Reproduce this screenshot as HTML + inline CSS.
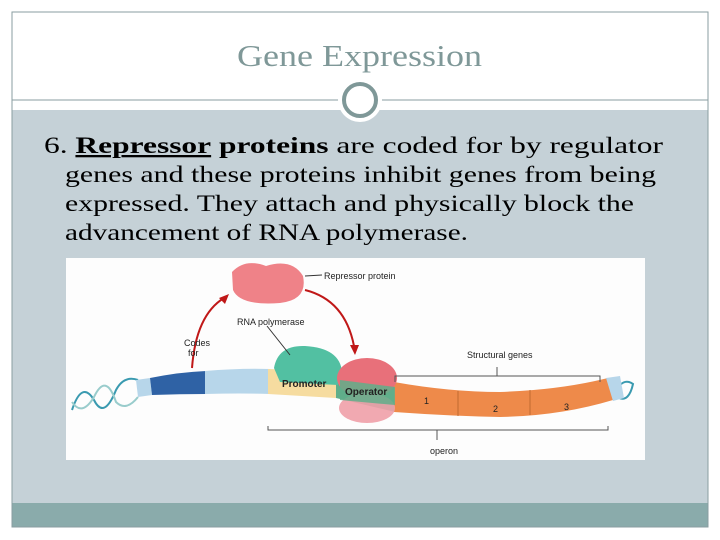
<!DOCTYPE html>
<html><head><style>
html,body{margin:0;padding:0;background:#fff;width:720px;height:540px;overflow:hidden}
</style></head><body>
<svg width="720" height="540" viewBox="0 0 720 540" xmlns="http://www.w3.org/2000/svg">
<rect x="0" y="0" width="720" height="540" fill="#fff"/>
<rect x="12" y="110" width="696" height="393" fill="#c5d1d7"/>
<rect x="12" y="503" width="696" height="24" fill="#8aabab"/>
<rect x="12" y="12" width="696" height="515" fill="none" stroke="#8a9ea0" stroke-width="1"/>
<line x1="12" y1="100" x2="708" y2="100" stroke="#8a9ea0" stroke-width="1"/>
<circle cx="360" cy="100" r="22" fill="#fff"/>
<circle cx="360" cy="100" r="16" fill="#fff" stroke="#7f9898" stroke-width="4"/>
<text x="237" y="66" textLength="245" lengthAdjust="spacingAndGlyphs" font-family="Liberation Serif, serif" font-size="31" fill="#7f9898">Gene Expression</text>
<g font-family="Liberation Serif, serif" font-size="23" fill="#000">
<text x="44" y="153" textLength="619" lengthAdjust="spacingAndGlyphs">6.  <tspan font-weight="bold" text-decoration="underline">Repressor</tspan> <tspan font-weight="bold">proteins</tspan> are coded for by regulator</text>
<text x="65" y="182" textLength="591" lengthAdjust="spacingAndGlyphs">genes and these proteins inhibit genes from being</text>
<text x="65" y="211" textLength="569" lengthAdjust="spacingAndGlyphs">expressed.  They attach and physically block the</text>
<text x="65" y="240" textLength="403" lengthAdjust="spacingAndGlyphs">advancement of RNA polymerase.</text>
</g>
<rect x="66" y="258" width="579" height="202" fill="#fdfdfd"/>
<path d="M72 410 q10 -30 22 -10 q10 20 22 -10 q8 -15 22 -10" fill="none" stroke="#3a9ab0" stroke-width="2"/>
<path d="M72 402 q10 15 22 -5 q12 -25 22 5 q10 10 22 -5" fill="none" stroke="#9cc" stroke-width="2"/>
<path d="M615 392 q8 -15 18 -8 q-4 18 -14 14" fill="none" stroke="#3a9ab0" stroke-width="2"/>
<path d="M136 380 L150 378 L152 395 L138 397 Z" fill="#b7d6ea"/>
<path d="M150 378 Q180 372 206 371 L206 394 Q180 394 152 395 Z" fill="#2f62a5"/>
<path d="M205 371 Q240 368 270 369 L270 394 Q240 393 205 394 Z" fill="#b7d6ea"/>
<path d="M268 369 L336 372 L336 398 L268 394 Z" fill="#f6dca0"/>
<path d="M336 372 L395 382 L395 412 L336 398 Z" fill="#5fae8a"/>
<path d="M394 382 Q450 392 500 392 Q560 390 608 378 L613 400 Q560 416 500 417 Q450 416 394 412 Z" fill="#ee8a4a"/>
<line x1="458" y1="391" x2="458" y2="416" stroke="#c06a30"/>
<line x1="530" y1="390" x2="530" y2="415" stroke="#c06a30"/>
<path d="M606 378 L620 376 L624 398 L613 401 Z" fill="#b7d6ea"/>
<path d="M274 368 Q278 345 305 346 Q340 348 342 372 L338 385 L280 382 Z" fill="#52c0a2"/>
<ellipse cx="367" cy="378" rx="30" ry="20" fill="#e8707a"/>
<ellipse cx="367" cy="408" rx="28" ry="15" fill="#f0a0a8" opacity="0.9"/>
<path d="M340 380 L395 387 L395 405 L340 400 Z" fill="#5fae8a" opacity="0.85"/>
<path d="M232 272 Q245 258 266 266 Q292 258 303 276 Q308 300 280 303 Q240 306 233 290 Z" fill="#ef8288"/>
<path d="M192 368 Q196 315 224 298" fill="none" stroke="#c01818" stroke-width="2"/>
<polygon points="229,294 219,298 225,304" fill="#c01818"/>
<path d="M305 290 Q345 300 354 346" fill="none" stroke="#c01818" stroke-width="2"/>
<polygon points="355,355 350,345 359,345" fill="#c01818"/>
<path d="M395 382 L395 376 L600 376 L600 382 M497 376 L497 367" fill="none" stroke="#555"/>
<path d="M268 426 L268 430 L608 430 L608 426 M437 430 L437 440" fill="none" stroke="#555"/>
<line x1="305" y1="276" x2="322" y2="275" stroke="#333"/>
<line x1="267" y1="326" x2="290" y2="355" stroke="#333"/>
<g font-family="Liberation Sans, sans-serif" font-size="9" fill="#222">
<text x="324" y="279">Repressor protein</text>
<text x="237" y="325">RNA polymerase</text>
<text x="184" y="346">Codes</text><text x="188" y="356">for</text>
<text x="467" y="358">Structural genes</text>
<text x="282" y="387" font-weight="bold" font-size="10">Promoter</text>
<text x="345" y="395" font-weight="bold" font-size="10">Operator</text>
<text x="424" y="404">1</text><text x="493" y="412">2</text><text x="564" y="410">3</text>
<text x="430" y="454">operon</text>
</g>
</svg>
</body></html>
